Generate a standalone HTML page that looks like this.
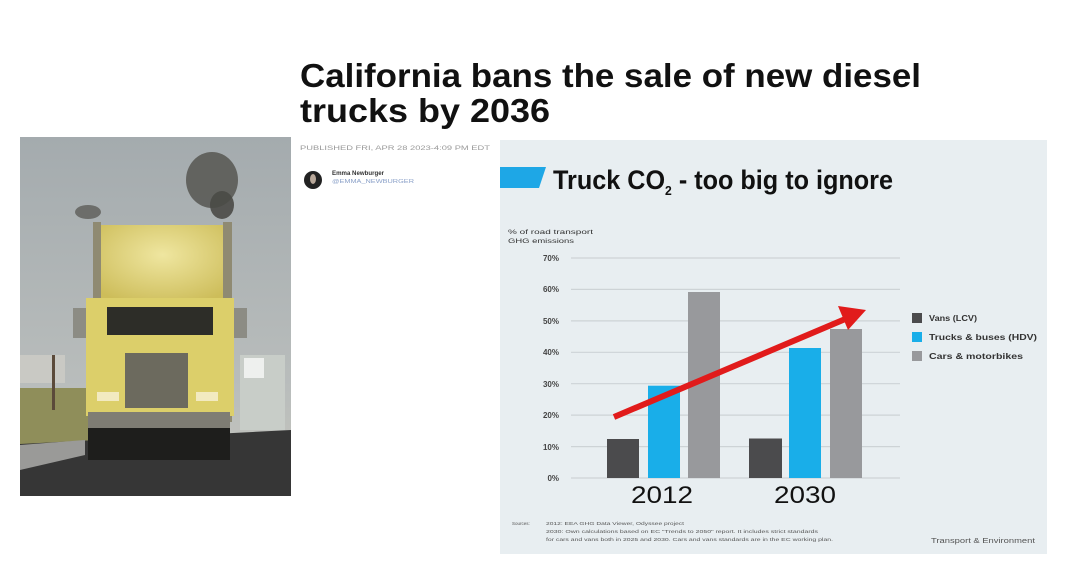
<!DOCTYPE html>
<html><head><meta charset="utf-8"><style>
html,body{margin:0;padding:0;background:#fff;}
svg{display:block;}
text{font-family:"Liberation Sans",sans-serif;}
</style></head><body>
<svg width="1068" height="580" viewBox="0 0 1068 580" xmlns="http://www.w3.org/2000/svg">
<defs>
<linearGradient id="sky" x1="0" y1="0" x2="0" y2="1">
<stop offset="0" stop-color="#a4abae"/><stop offset="0.7" stop-color="#b9bdbc"/><stop offset="1" stop-color="#c6c6bd"/>
</linearGradient>
<radialGradient id="sl" cx="0.5" cy="0.4" r="0.7">
<stop offset="0" stop-color="#efe6a0"/><stop offset="1" stop-color="#cdbd5a"/>
</radialGradient>
</defs>
<rect width="1068" height="580" fill="#fff"/>
<!-- headline -->
<text x="300" y="87" font-size="33" font-weight="bold" fill="#111" textLength="621" lengthAdjust="spacingAndGlyphs">California bans the sale of new diesel</text>
<text x="300" y="122" font-size="33" font-weight="bold" fill="#111" textLength="250" lengthAdjust="spacingAndGlyphs">trucks by 2036</text>
<text x="300" y="150" font-size="6" fill="#999" textLength="190" lengthAdjust="spacingAndGlyphs">PUBLISHED FRI, APR 28 2023-4:09 PM EDT</text>
<circle cx="313" cy="180" r="9" fill="#222"/>
<ellipse cx="313" cy="179" rx="3" ry="5" fill="#b9a89a"/>
<text x="332" y="175" font-size="6" font-weight="bold" fill="#333" font-family="Liberation Serif" textLength="52" lengthAdjust="spacingAndGlyphs">Emma Newburger</text>
<text x="332" y="183" font-size="5" fill="#8aa0c8" textLength="82" lengthAdjust="spacingAndGlyphs">@EMMA_NEWBURGER</text>
<!-- photo -->
<rect x="20" y="137" width="271" height="359" fill="url(#sky)"/>
<rect x="20" y="388" width="70" height="56" fill="#8f8e5a"/>
<rect x="20" y="355" width="45" height="28" fill="#c9c9c4"/>
<rect x="52" y="355" width="3" height="55" fill="#5b4a3a"/>
<polygon points="20,444 291,430 291,496 20,496" fill="#363636"/>
<polygon points="20,445 85,440 85,455 20,470" fill="#9a9a98"/>
<rect x="240" y="355" width="45" height="75" fill="#c8cdc8"/>
<rect x="244" y="358" width="20" height="20" fill="#eef0ee"/>
<ellipse cx="212" cy="180" rx="26" ry="28" fill="#565651" opacity="0.85"/>
<ellipse cx="222" cy="205" rx="12" ry="14" fill="#4a4a46" opacity="0.9"/>
<ellipse cx="88" cy="212" rx="13" ry="7" fill="#5d5d58" opacity="0.8"/>
<rect x="100" y="225" width="125" height="75" fill="url(#sl)"/>
<rect x="93" y="222" width="8" height="200" fill="#8f8a72"/>
<rect x="223" y="222" width="9" height="200" fill="#8f8a72"/>
<rect x="86" y="298" width="148" height="118" fill="#dccf6a"/>
<rect x="107" y="307" width="106" height="28" fill="#2d2d28"/>
<rect x="73" y="308" width="13" height="30" fill="#8c8c84"/>
<rect x="234" y="308" width="13" height="30" fill="#8c8c84"/>
<rect x="125" y="353" width="63" height="55" fill="#6c6a5e"/>
<rect x="97" y="392" width="22" height="9" fill="#f2eac0"/>
<rect x="196" y="392" width="22" height="9" fill="#f2eac0"/>
<rect x="88" y="412" width="142" height="16" fill="#7f7d74"/>
<rect x="88" y="428" width="142" height="32" fill="#1e1e1c"/>
<!-- chart panel -->
<rect x="500" y="140" width="547" height="414" fill="#e8eef1"/>
<polygon points="500,167 546,167 539,188 500,188" fill="#1ea7e6"/>
<text x="553" y="189" font-size="27" font-weight="bold" fill="#111" textLength="340" lengthAdjust="spacingAndGlyphs">Truck CO<tspan font-size="13" dy="6">2</tspan><tspan dy="-6"> - too big to ignore</tspan></text>
<text x="508" y="234" font-size="6.5" fill="#333" textLength="85" lengthAdjust="spacingAndGlyphs">% of road transport</text>
<text x="508" y="243" font-size="6.5" fill="#333" textLength="66" lengthAdjust="spacingAndGlyphs">GHG emissions</text>
<g stroke="#cdd3d6" stroke-width="1.2">
<line x1="571" y1="258" x2="900" y2="258"/><line x1="571" y1="289.4" x2="900" y2="289.4"/>
<line x1="571" y1="320.9" x2="900" y2="320.9"/><line x1="571" y1="352.3" x2="900" y2="352.3"/>
<line x1="571" y1="383.7" x2="900" y2="383.7"/><line x1="571" y1="415.1" x2="900" y2="415.1"/>
<line x1="571" y1="446.6" x2="900" y2="446.6"/><line x1="571" y1="478" x2="900" y2="478"/>
</g>
<g font-size="8" font-weight="bold" fill="#444" text-anchor="end">
<text x="559" y="261">70%</text><text x="559" y="292">60%</text><text x="559" y="324">50%</text>
<text x="559" y="355">40%</text><text x="559" y="387">30%</text><text x="559" y="418">20%</text>
<text x="559" y="450">10%</text><text x="559" y="481">0%</text>
</g>
<rect x="607" y="439" width="32" height="39" fill="#4b4b4d"/>
<rect x="648" y="385.7" width="32" height="92.3" fill="#19aee9"/>
<rect x="688" y="292" width="32" height="186" fill="#98999c"/>
<rect x="749" y="438.5" width="33" height="39.5" fill="#4b4b4d"/>
<rect x="789" y="348" width="32" height="130" fill="#19aee9"/>
<rect x="830" y="329" width="32" height="149" fill="#98999c"/>
<line x1="614" y1="417" x2="850" y2="317" stroke="#e11b1b" stroke-width="6"/>
<polygon points="866,310 838,306 848,330" fill="#e11b1b"/>
<rect x="912" y="313" width="10" height="10" fill="#4b4b4d"/>
<rect x="912" y="332" width="10" height="10" fill="#19aee9"/>
<rect x="912" y="351" width="10" height="10" fill="#98999c"/>
<g font-size="8" font-weight="bold" fill="#333">
<text x="929" y="321" textLength="48" lengthAdjust="spacingAndGlyphs">Vans (LCV)</text>
<text x="929" y="340" textLength="108" lengthAdjust="spacingAndGlyphs">Trucks &amp; buses (HDV)</text>
<text x="929" y="359" textLength="94" lengthAdjust="spacingAndGlyphs">Cars &amp; motorbikes</text>
</g>
<text x="662" y="503" font-size="24" fill="#111" text-anchor="middle" textLength="62" lengthAdjust="spacingAndGlyphs">2012</text>
<text x="805" y="503" font-size="24" fill="#111" text-anchor="middle" textLength="62" lengthAdjust="spacingAndGlyphs">2030</text>
<g font-size="4.5" fill="#555">
<text x="512" y="525">Sources:</text>
<text x="546" y="525" textLength="138" lengthAdjust="spacingAndGlyphs">2012: EEA GHG Data Viewer, Odyssee project</text>
<text x="546" y="533" textLength="272" lengthAdjust="spacingAndGlyphs">2030: Own calculations based on EC "Trends to 2050" report. It includes strict standards</text>
<text x="546" y="541" textLength="287" lengthAdjust="spacingAndGlyphs">for cars and vans both in 2025 and 2030. Cars and vans standards are in the EC working plan.</text>
</g>
<text x="931" y="543" font-size="7" fill="#555" textLength="104" lengthAdjust="spacingAndGlyphs">Transport &amp; Environment</text>
</svg>
</body></html>
